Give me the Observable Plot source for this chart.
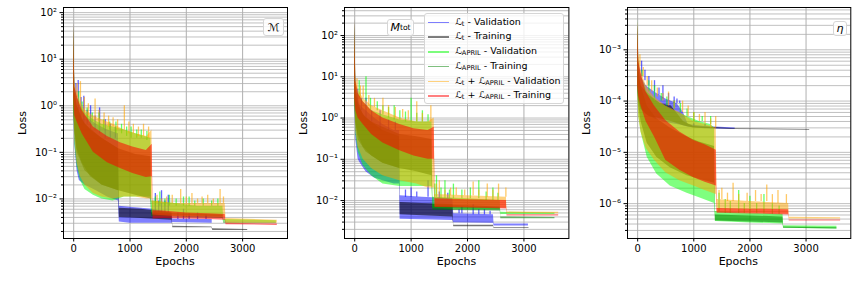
<!DOCTYPE html>
<html><head><meta charset="utf-8">
<script src="https://cdn.jsdelivr.net/npm/d3@7"></script>
<script src="https://cdn.jsdelivr.net/npm/@observablehq/plot@0.6"></script>
<style>
body{margin:0;background:#fff;}
#wrap{position:relative;width:857px;height:304px;overflow:hidden;font-family:"DejaVu Sans",sans-serif;color:#000;}
.panel{position:absolute;top:0;}
.lab{position:absolute;font-size:11px;white-space:nowrap;}
.ylab{position:absolute;font-size:11px;white-space:nowrap;transform:translate(-50%,-50%) rotate(-90deg);}
.tag{position:absolute;background:rgba(255,255,255,0.85);border:1px solid #d6d6d6;border-radius:3px;font-size:11px;display:flex;align-items:center;justify-content:center;box-sizing:border-box;}
.legend{position:absolute;background:rgba(255,255,255,0.8);border:1px solid #d6d6d6;border-radius:3px;box-sizing:border-box;}
.li{position:absolute;left:0;width:138px;height:1px;font-size:9.5px;white-space:nowrap;}
.li .sw{position:absolute;left:3px;top:0;width:21px;height:1.5px;}
.li .tx{position:absolute;left:30px;top:0;transform:translateY(-55%);}
sub{font-size:70%;vertical-align:-0.2em;line-height:0;}
</style></head>
<body><div id="wrap"></div>
<script>
// ---- series labels / colours ----
const seriesLabels = [
  "ℒ<sub>t</sub> - Validation",
  "ℒ<sub>t</sub> - Training",
  "ℒ<sub>APRIL</sub> - Validation",
  "ℒ<sub>APRIL</sub> - Training",
  "ℒ<sub>t</sub> + ℒ<sub>APRIL</sub> - Validation",
  "ℒ<sub>t</sub> + ℒ<sub>APRIL</sub> - Training"
];
const seriesColors = ["#0000ff", "#000000", "#00ff00", "#008000", "#ffa500", "#ff0000"];
const xTicks = [0, 1000, 2000, 3000];
const xTickLabels = ["0", "1000", "2000", "3000"];
const panelTags = ["ℳ", "<i>M</i><sub>tot</sub>", "<i>η</i>"];

// ---- panel 1 (ℳ): [epoch, low, high] envelopes ----
const p1Blue = [[0,1,60],[20,0.15,2.5],[60,0.04,1.5],[100,0.025,1],[200,0.02,0.6],[400,0.015,0.4],[600,0.011,0.3],[795,0.009,0.25],[810,0.0032,0.007],[1000,0.003,0.0066],[1400,0.003,0.006],[1745,0.003,0.005],[1760,0.0031,0.0037],[2460,0.003,0.0036]];
const p1Gray = [[0,1,50],[20,0.3,2],[60,0.1,1],[200,0.04,0.4],[500,0.02,0.2],[795,0.015,0.12],[810,0.004,0.0063],[1200,0.0038,0.006],[1745,0.0035,0.005],[1760,0.0024,0.0026],[2455,0.0024,0.0025],[2470,0.0021,0.0023],[3090,0.0021,0.0022]];
const p1Lime = [[0,1,60],[20,0.15,2.5],[60,0.05,1.5],[120,0.025,1],[200,0.016,0.7],[350,0.012,0.5],[500,0.01,0.4],[700,0.009,0.35],[900,0.011,0.3],[1100,0.011,0.25],[1370,0.011,0.2],[1385,0.005,0.009],[1800,0.0045,0.008],[2200,0.0043,0.007],[2650,0.0042,0.007],[2665,0.0032,0.0036],[3600,0.0031,0.0034]];
const p1Green = [[0,1,50],[20,0.3,2],[60,0.12,1],[150,0.06,0.5],[300,0.03,0.3],[500,0.02,0.2],[800,0.015,0.12],[1100,0.012,0.09],[1370,0.01,0.08],[1385,0.0042,0.005],[2650,0.0038,0.0045],[2665,0.003,0.0032],[3600,0.003,0.0031]];
const p1Orange = [[0,1,60],[20,0.2,3],[60,0.06,2],[120,0.03,1.2],[200,0.02,0.8],[350,0.013,0.6],[500,0.011,0.5],[700,0.01,0.4],[900,0.011,0.3],[1100,0.011,0.25],[1300,0.01,0.22],[1390,0.01,0.3],[1405,0.0045,0.009],[1800,0.0042,0.008],[2200,0.0042,0.008],[2690,0.004,0.008],[2705,0.003,0.0038],[3616,0.003,0.0035]];
const p1Red = [[0,1.5,60],[20,0.6,2.5],[60,0.45,1.6],[150,0.25,0.8],[350,0.1,0.35],[600,0.06,0.22],[830,0.045,0.16],[1050,0.035,0.13],[1290,0.029,0.11],[1395,0.03,0.15],[1410,0.0037,0.0056],[1600,0.0038,0.0055],[2000,0.0037,0.005],[2400,0.0036,0.0048],[2690,0.0035,0.0046],[2705,0.0028,0.003],[3616,0.0027,0.0029]];
// spikes: [epoch, base, peak]
const p1BlueSpk = [[40,1.5,3],[80,0.8,3.5],[130,0.6,1.5],[180,0.4,1.6],[240,0.4,0.8],[300,0.3,1.0],[380,0.3,0.6],[460,0.25,0.9],[560,0.2,0.5],[650,0.2,0.4],[740,0.2,0.35],[1450,0.005,0.013],[1510,0.005,0.009],[1560,0.005,0.015],[1620,0.005,0.009],[1680,0.005,0.012],[1850,0.0036,0.005],[1950,0.0036,0.006],[2050,0.0036,0.0048],[2200,0.0036,0.005],[2350,0.0036,0.0045]];
const p1LimeSpk = [[90,1,2],[150,0.6,1.2],[240,0.5,0.9],[330,0.45,0.7],[450,0.3,0.7],[530,0.3,0.5],[640,0.3,0.45],[750,0.25,0.45],[850,0.25,0.4],[940,0.22,0.35],[1020,0.2,0.35],[1120,0.2,0.3],[1200,0.2,0.3],[1300,0.18,0.28],[1450,0.007,0.011],[1530,0.007,0.014],[1620,0.007,0.01],[1700,0.007,0.012],[1820,0.007,0.01],[1950,0.007,0.011],[2050,0.007,0.011],[2150,0.007,0.009],[2300,0.007,0.01],[2450,0.007,0.009],[2560,0.007,0.01]];
const p1OrangeSpk = [[60,1.5,3],[120,1,3.3],[190,0.7,1.5],[260,0.6,1.1],[380,0.5,1.4],[450,0.45,0.8],[540,0.4,0.7],[620,0.35,0.6],[700,0.35,0.55],[780,0.3,0.5],[900,0.3,1.0],[980,0.25,0.45],[1060,0.25,0.4],[1150,0.22,0.35],[1240,0.22,0.4],[1330,0.2,0.35],[1480,0.008,0.012],[1560,0.008,0.01],[1650,0.008,0.011],[1750,0.008,0.012],[1900,0.008,0.016],[2000,0.008,0.011],[2100,0.008,0.013],[2200,0.008,0.01],[2280,0.008,0.011],[2380,0.008,0.012],[2480,0.008,0.01],[2600,0.008,0.016],[2660,0.008,0.011]];
const p1YTicks = [0.01, 0.1, 1, 10, 100];
const p1YLabels = ["10⁻²", "10⁻¹", "10⁰", "10¹", "10²"];

// ---- panel 2 (M_tot) ----
const p2Blue = [[0,3,250],[20,0.3,6],[60,0.1,3],[100,0.08,2],[200,0.05,1.5],[350,0.035,1],[500,0.03,0.7],[700,0.025,0.5],[795,0.025,0.5],[805,0.0035,0.013],[1200,0.0034,0.012],[1740,0.0033,0.011],[1755,0.0029,0.0048],[2460,0.0028,0.0045],[2470,0.0024,0.0027],[3080,0.0024,0.0027]];
const p2Gray = [[0,3,200],[20,0.8,4],[60,0.3,2],[200,0.15,1],[500,0.08,0.5],[795,0.06,0.35],[805,0.0045,0.009],[1200,0.0043,0.0085],[1740,0.004,0.008],[1755,0.0023,0.0025],[2460,0.0023,0.0025],[2470,0.0021,0.0022],[3090,0.0021,0.0022]];
const p2Lime = [[0,3,250],[20,0.4,7],[60,0.15,4],[150,0.07,2.5],[300,0.04,1.5],[500,0.025,1.2],[800,0.022,0.9],[1100,0.022,0.8],[1370,0.022,0.8],[1385,0.0065,0.012],[2000,0.006,0.011],[2580,0.006,0.01],[2590,0.0046,0.0052],[3550,0.0046,0.005]];
const p2Green = [[0,3,200],[20,0.8,5],[60,0.4,2.5],[150,0.2,1.2],[300,0.12,0.8],[500,0.08,0.6],[800,0.06,0.4],[1100,0.05,0.35],[1370,0.04,0.3],[1385,0.0058,0.008],[2580,0.0056,0.007],[2590,0.0036,0.004],[3550,0.0036,0.0039]];
const p2Orange = [[0,3,250],[20,0.5,8],[60,0.2,5],[150,0.1,3],[300,0.06,2],[500,0.04,1.5],[800,0.03,1.0],[1100,0.025,0.8],[1300,0.02,0.8],[1410,0.02,1],[1425,0.007,0.014],[2000,0.0068,0.013],[2690,0.0065,0.012],[2700,0.0049,0.0053],[3616,0.0048,0.0052]];
const p2Red = [[0,3,250],[20,1.5,8],[60,1.0,4],[150,0.7,2.5],[300,0.4,1.5],[500,0.25,1.0],[800,0.16,0.7],[1050,0.12,0.55],[1300,0.1,0.5],[1410,0.1,0.6],[1425,0.0068,0.011],[2000,0.0066,0.0105],[2690,0.0062,0.01],[2700,0.0042,0.0045],[3616,0.0042,0.0045]];
const p2BlueSpk = [[50,2,5],[120,1.5,3],[200,1,3],[300,0.8,1.5],[450,0.5,1.5],[600,0.5,0.9],[720,0.5,0.8],[900,0.012,0.018],[1000,0.012,0.02],[1100,0.012,0.016],[1300,0.012,0.03],[1500,0.011,0.016],[1650,0.011,0.015],[1850,0.0048,0.006],[1900,0.0048,0.007],[2100,0.0045,0.008],[2200,0.0045,0.006],[2300,0.0045,0.006],[2400,0.0045,0.0055]];
const p2LimeSpk = [[80,3,8],[200,2.5,10],[280,1.5,3],[400,1.5,2.5],[500,1.2,2],[600,1,1.8],[700,0.9,2],[800,0.9,1.5],[900,0.8,1.4],[1000,0.8,3],[1100,0.8,1.3],[1200,0.8,1.5],[1300,0.8,1.2],[1420,0.012,0.025],[1450,0.012,0.04],[1530,0.011,0.02],[1600,0.011,0.03],[1680,0.011,0.018],[1750,0.011,0.025],[1900,0.011,0.018],[2050,0.011,0.02],[2200,0.011,0.03],[2330,0.01,0.016],[2450,0.01,0.02],[2540,0.01,0.015]];
const p2OrangeSpk = [[40,5,9],[100,3,6],[150,3,6],[250,2,3.5],[350,1.8,3],[500,1.5,3],[600,1.2,2],[720,1,1.8],[850,1,1.6],[950,0.9,1.5],[1100,0.8,2.5],[1200,0.8,1.3],[1350,0.8,2],[1450,0.014,0.025],[1500,0.014,0.03],[1600,0.013,0.018],[1700,0.013,0.02],[1800,0.013,0.02],[1950,0.013,0.018],[2100,0.013,0.028],[2200,0.013,0.018],[2350,0.012,0.025],[2450,0.012,0.018],[2550,0.012,0.025],[2680,0.012,0.02]];
const p2YTicks = [0.01, 0.1, 1, 10, 100];
const p2YLabels = ["10⁻²", "10⁻¹", "10⁰", "10¹", "10²"];

// ---- panel 3 (η) ----
const p3Blue = [[0,2e-4,3e-3],[20,1e-4,6e-4],[60,7e-5,3e-4],[150,5.5e-5,2e-4],[300,4.5e-5,1.5e-4],[500,3.8e-5,1.1e-4],[700,3.5e-5,9e-5],[815,3.3e-5,6e-5],[900,3.1e-5,3.5e-5],[1200,2.9e-5,3.2e-5],[1737,2.8e-5,3e-5]];
const p3Gray = [[0,2e-4,3e-3],[20,1e-4,4e-4],[60,7e-5,2e-4],[200,5e-5,1.3e-4],[400,4.5e-5,9e-5],[600,4e-5,8e-5],[815,3.3e-5,4e-5],[1000,3e-5,3.2e-5],[1740,2.8e-5,2.9e-5],[3065,2.7e-5,2.8e-5]];
const p3Lime = [[0,2e-4,4e-3],[20,5e-5,6e-4],[60,2.5e-5,3e-4],[170,8e-6,1.5e-4],[340,3.8e-6,1e-4],[580,2.2e-6,7e-5],[880,1.6e-6,5e-5],[1100,1.3e-6,4e-5],[1300,1.07e-6,3.5e-5],[1370,1e-6,3e-5],[1385,4.5e-7,7e-7],[2000,4.2e-7,6.5e-7],[2590,4e-7,6.2e-7],[2600,3.3e-7,3.7e-7],[3550,3.2e-7,3.6e-7]];
const p3Green = [[0,2e-4,3e-3],[20,8e-5,4e-4],[60,4e-5,2e-4],[170,1.5e-5,8e-5],[340,8e-6,4.5e-5],[580,5e-6,3e-5],[880,3.5e-6,2e-5],[1100,3e-6,1.6e-5],[1370,2.5e-6,1.3e-5],[1385,4.6e-7,6e-7],[2590,4.2e-7,5.5e-7],[2600,3.3e-7,3.5e-7],[3550,3.2e-7,3.4e-7]];
const p3Orange = [[0,2e-4,3.5e-3],[20,5e-5,8e-4],[60,2.5e-5,4e-4],[150,1.2e-5,2e-4],[300,7e-6,1.2e-4],[500,4e-6,8e-5],[750,2.8e-6,6e-5],[1000,2.2e-6,4e-5],[1200,1.8e-6,3.5e-5],[1400,1.5e-6,3e-5],[1415,6.8e-7,1.2e-6],[2000,6.5e-7,1.1e-6],[2690,6.2e-7,1e-6],[2700,5e-7,5.4e-7],[3616,5e-7,5.3e-7]];
const p3Red = [[0,2e-4,3.5e-3],[20,1.2e-4,6e-4],[60,8e-5,3.5e-4],[150,4e-5,1.5e-4],[300,2e-5,8e-5],[500,7e-6,4.2e-5],[750,4.5e-6,2.5e-5],[1000,3.2e-6,1.7e-5],[1200,2.6e-6,1.4e-5],[1400,2.2e-6,1.1e-5],[1415,6.5e-7,8e-7],[2000,6.3e-7,7.8e-7],[2690,6e-7,7.6e-7],[2700,4.6e-7,4.8e-7],[3616,4.6e-7,4.8e-7]];
const p3BlueSpk = [[70,3e-4,6e-4],[130,2.5e-4,4e-4],[200,2e-4,3e-4],[300,1.5e-4,2.5e-4],[380,1.3e-4,1.8e-4],[450,1.1e-4,2e-4],[550,1e-4,1.4e-4],[650,9e-5,1.2e-4],[700,9e-5,1.1e-4],[750,9e-5,1e-4],[1000,3.2e-5,3.6e-5],[1200,3.2e-5,3.5e-5]];
const p3LimeSpk = [[80,3e-4,4e-4],[200,1.5e-4,2.5e-4],[300,1e-4,2e-4],[420,1e-4,1.4e-4],[520,8e-5,1.2e-4],[650,7e-5,1e-4],[760,6e-5,9e-5],[880,5e-5,7e-5],[1000,4e-5,6e-5],[1150,4e-5,5e-5],[1300,3.5e-5,5e-5],[1450,7e-7,1.6e-6],[1560,6.5e-7,1.2e-6],[1650,6.5e-7,1.1e-6],[1800,6.5e-7,1.8e-6],[1900,6.5e-7,1e-6],[2000,6.5e-7,1.4e-6],[2120,6.5e-7,1e-6],[2250,6.5e-7,1.5e-6],[2400,6.2e-7,1e-6],[2520,6.2e-7,9e-7]];
const p3OrangeSpk = [[40,5e-4,8e-4],[100,3e-4,4.5e-4],[170,2e-4,3e-4],[250,1.5e-4,2.5e-4],[350,1.2e-4,1.8e-4],[450,1e-4,1.4e-4],[550,8e-5,1.5e-4],[650,7e-5,1e-4],[800,6e-5,1e-4],[900,5e-5,8e-5],[1000,4e-5,6e-5],[1100,4e-5,5.5e-5],[1200,3.5e-5,6e-5],[1300,3e-5,4.5e-5],[1390,3e-5,5e-5],[1450,1.2e-6,1.8e-6],[1500,1.2e-6,2e-6],[1600,1.1e-6,1.6e-6],[1700,1.1e-6,2.5e-6],[1800,1.1e-6,1.5e-6],[1950,1.1e-6,1.6e-6],[2100,1.1e-6,1.8e-6],[2200,1.1e-6,1.5e-6],[2300,1.1e-6,2.3e-6],[2400,1e-6,1.5e-6],[2500,1e-6,1.8e-6],[2650,1e-6,1.5e-6]];
const p3YTicks = [1e-6, 1e-5, 1e-4, 1e-3];
const p3YLabels = ["10⁻⁶", "10⁻⁵", "10⁻⁴", "10⁻³"];

// ---- layout ----
const panels = [
  {frameL: 63, frameR: 287, ydom: [Math.pow(10,-2.85), Math.pow(10,2.11)], ticks: p1YTicks, labels: p1YLabels,
   series: [p1Blue, p1Gray, p1Lime, p1Green, p1Orange, p1Red], spikes: {0: p1BlueSpk, 2: p1LimeSpk, 4: p1OrangeSpk},
   tag: {l: 263, t: 18, w: 21, h: 18}},
  {frameL: 344.3, frameR: 568.7, ydom: [Math.pow(10,-2.92), Math.pow(10,2.68)], ticks: p2YTicks, labels: p2YLabels,
   series: [p2Blue, p2Gray, p2Lime, p2Green, p2Orange, p2Red], spikes: {0: p2BlueSpk, 2: p2LimeSpk, 4: p2OrangeSpk},
   tag: {l: 387, t: 19, w: 27, h: 17}},
  {frameL: 626.7, frameR: 850, ydom: [Math.pow(10,-6.68), Math.pow(10,-2.175)], ticks: p3YTicks, labels: p3YLabels,
   series: [p3Blue, p3Gray, p3Lime, p3Green, p3Orange, p3Red], spikes: {0: p3BlueSpk, 2: p3LimeSpk, 4: p3OrangeSpk},
   tag: {l: 833, t: 21, w: 14, h: 15}}
];
const frameTop = 7, frameBottom = 238, svgH = 275;
const wrap = document.getElementById("wrap");

function minorTicks(dom) {
  const out = [];
  const a = Math.floor(Math.log10(dom[0])), b = Math.ceil(Math.log10(dom[1]));
  for (let e = a; e <= b; e++) for (let k = 2; k <= 9; k++) {
    const v = k * Math.pow(10, e);
    if (v >= dom[0] && v <= dom[1]) out.push(v);
  }
  return out;
}

panels.forEach((p, pi) => {
  const left = p.frameL - 60;
  const width = p.frameR - left + 6;
  const minors = minorTicks(p.ydom);
  const marks = [
    Plot.gridY(minors, {stroke: "#b0b0b0", strokeOpacity: 1, strokeWidth: 0.8}),
    Plot.gridY(p.ticks, {stroke: "#b0b0b0", strokeOpacity: 1, strokeWidth: 0.8}),
    Plot.gridX(xTicks, {stroke: "#b0b0b0", strokeOpacity: 1, strokeWidth: 1})
  ];
  p.series.forEach((s, si) => {
    const train = si % 2 === 1;
    marks.push(Plot.areaY(s, {x: d => d[0], y1: d => d[1], y2: d => d[2], fill: seriesColors[si],
      fillOpacity: train ? 0.55 : 0.5, curve: "linear"}));
    if (p.spikes[si]) {
      marks.push(Plot.ruleX(p.spikes[si], {x: d => d[0], y1: d => d[1], y2: d => d[2],
        stroke: seriesColors[si], strokeOpacity: 0.6, strokeWidth: 1.3}));
    }
  });
  marks.push(Plot.frame({stroke: "black", strokeWidth: 1}));
  marks.push(Plot.axisX(xTicks, {tickSize: 3.5, tickPadding: 3, label: null, fontSize: 10,
    tickFormat: d => xTickLabels[xTicks.indexOf(d)]}));
  marks.push(Plot.axisY(p.ticks, {tickSize: 3.5, tickPadding: 3, label: null, fontSize: 10,
    tickFormat: d => p.labels[p.ticks.indexOf(d)]}));
  marks.push(Plot.axisY(minors, {tickSize: 2, label: null, tickFormat: () => ""}));

  const chart = Plot.plot({
    width, height: svgH,
    marginLeft: 60, marginRight: 6, marginTop: frameTop, marginBottom: svgH - frameBottom,
    style: {fontFamily: "DejaVu Sans, sans-serif", fontSize: "10px", background: "transparent", color: "black"},
    x: {domain: [-181, 3797]},
    y: {type: "log", domain: p.ydom},
    marks
  });
  chart.classList.add("panel");
  chart.style.left = left + "px";
  wrap.appendChild(chart);

  const ex = document.createElement("div");
  ex.className = "lab";
  ex.textContent = "Epochs";
  ex.style.left = ((p.frameL + p.frameR) / 2) + "px";
  ex.style.top = "255px";
  ex.style.transform = "translateX(-50%)";
  wrap.appendChild(ex);

  const yl = document.createElement("div");
  yl.className = "ylab";
  yl.textContent = "Loss";
  yl.style.left = (p.frameL - 41) + "px";
  yl.style.top = ((frameTop + frameBottom) / 2) + "px";
  wrap.appendChild(yl);

  const tg = document.createElement("div");
  tg.className = "tag";
  tg.innerHTML = panelTags[pi];
  Object.assign(tg.style, {left: p.tag.l + "px", top: p.tag.t + "px", width: p.tag.w + "px", height: p.tag.h + "px"});
  wrap.appendChild(tg);
});

// legend (panel 2)
const lg = document.createElement("div");
lg.className = "legend";
Object.assign(lg.style, {left: "424px", top: "13px", width: "140px", height: "91px"});
const rowY = [7.5, 22, 37, 51.5, 66.5, 81];
seriesLabels.forEach((lab, i) => {
  const row = document.createElement("div");
  row.className = "li";
  row.style.top = rowY[i] + "px";
  const sw = document.createElement("div");
  sw.className = "sw";
  sw.style.background = seriesColors[i];
  sw.style.opacity = 0.5;
  const tx = document.createElement("div");
  tx.className = "tx";
  tx.innerHTML = lab;
  row.appendChild(sw);
  row.appendChild(tx);
  lg.appendChild(row);
});
wrap.appendChild(lg);
</script>
</body></html>
